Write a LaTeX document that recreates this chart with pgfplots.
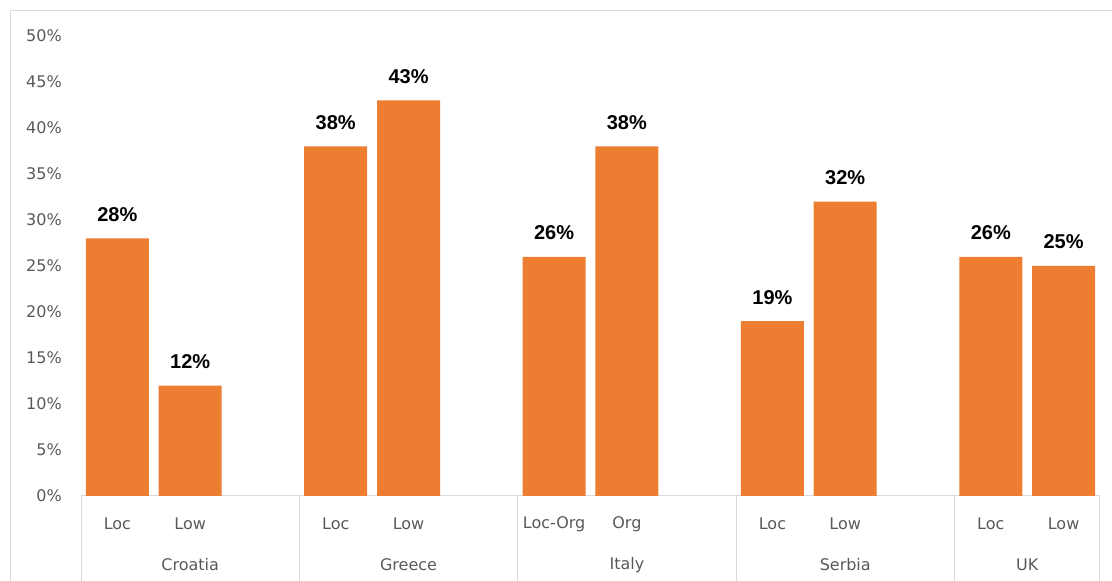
\documentclass[border=0pt]{standalone}
\usepackage{pgfplots}
\pgfplotsset{compat=1.18}
\usepackage{fontspec}
\setmainfont{DejaVu Sans}
\newfontfamily\lblfont{Liberation Sans}
\definecolor{barorange}{HTML}{ED7D31}
\definecolor{ticktext}{HTML}{595959}
\definecolor{framegray}{HTML}{D9D9D9}
\begin{document}
\begin{tikzpicture}
\path[use as bounding box] (0,0) rectangle (1112pt,581pt);
\draw[framegray, line width=1pt] (10pt,0pt) -- (10pt,570pt) -- (1112pt,570pt);
\begin{axis}[
  at={(81pt,85pt)}, anchor=south west,
  scale only axis, width=1019pt, height=460pt,
  ybar, bar width=63pt,
  xmin=-0.5, xmax=13.5, ymin=0, ymax=50,
  enlargelimits=false, clip=false,
  axis x line*=bottom, axis y line*=left,
  x axis line style={framegray, line width=1pt},
  y axis line style={draw=none},
  major tick length=0pt,
  xtick={0,1,3,4,6,7,9,10,12,13},
  xticklabels={Loc,Low,Loc,Low,Loc-Org,Org,Loc,Low,Loc,Low},
  xticklabel style={anchor=center, yshift=-28pt, text=ticktext, font=\fontsize{16}{19}\selectfont},
  extra x ticks={1,4,7,10,12.5},
  extra x tick labels={Croatia,Greece,Italy,Serbia,UK},
  extra x tick style={major tick length=0pt, xticklabel style={yshift=-41pt}},
  ytick={0,5,...,50},
  /pgf/number format/assume math mode=true,
  yticklabel={\pgfmathprintnumber{\tick}\%},
  yticklabel style={anchor=east, inner sep=0pt, xshift=-19pt, text=ticktext, font=\fontsize{16}{19}\selectfont},
  nodes near coords={\pgfmathprintnumber{\pgfplotspointmeta}\%},
  point meta=y,
  nodes near coords style={anchor=center, yshift=24pt, text=black, font=\lblfont\bfseries\fontsize{20}{24}\selectfont},
]
\addplot[fill=barorange, draw=none] coordinates {
  (0,28) (1,12) (3,38) (4,43) (6,26) (7,38) (9,19) (10,32) (12,26) (13,25)
};
\pgfplotsinvokeforeach{-0.5,2.5,5.5,8.5,11.5,13.5}{
  \draw[framegray, line width=1pt] (axis cs:#1,0) -- ++(0pt,-85pt);
}
\end{axis}
\end{tikzpicture}
\end{document}
